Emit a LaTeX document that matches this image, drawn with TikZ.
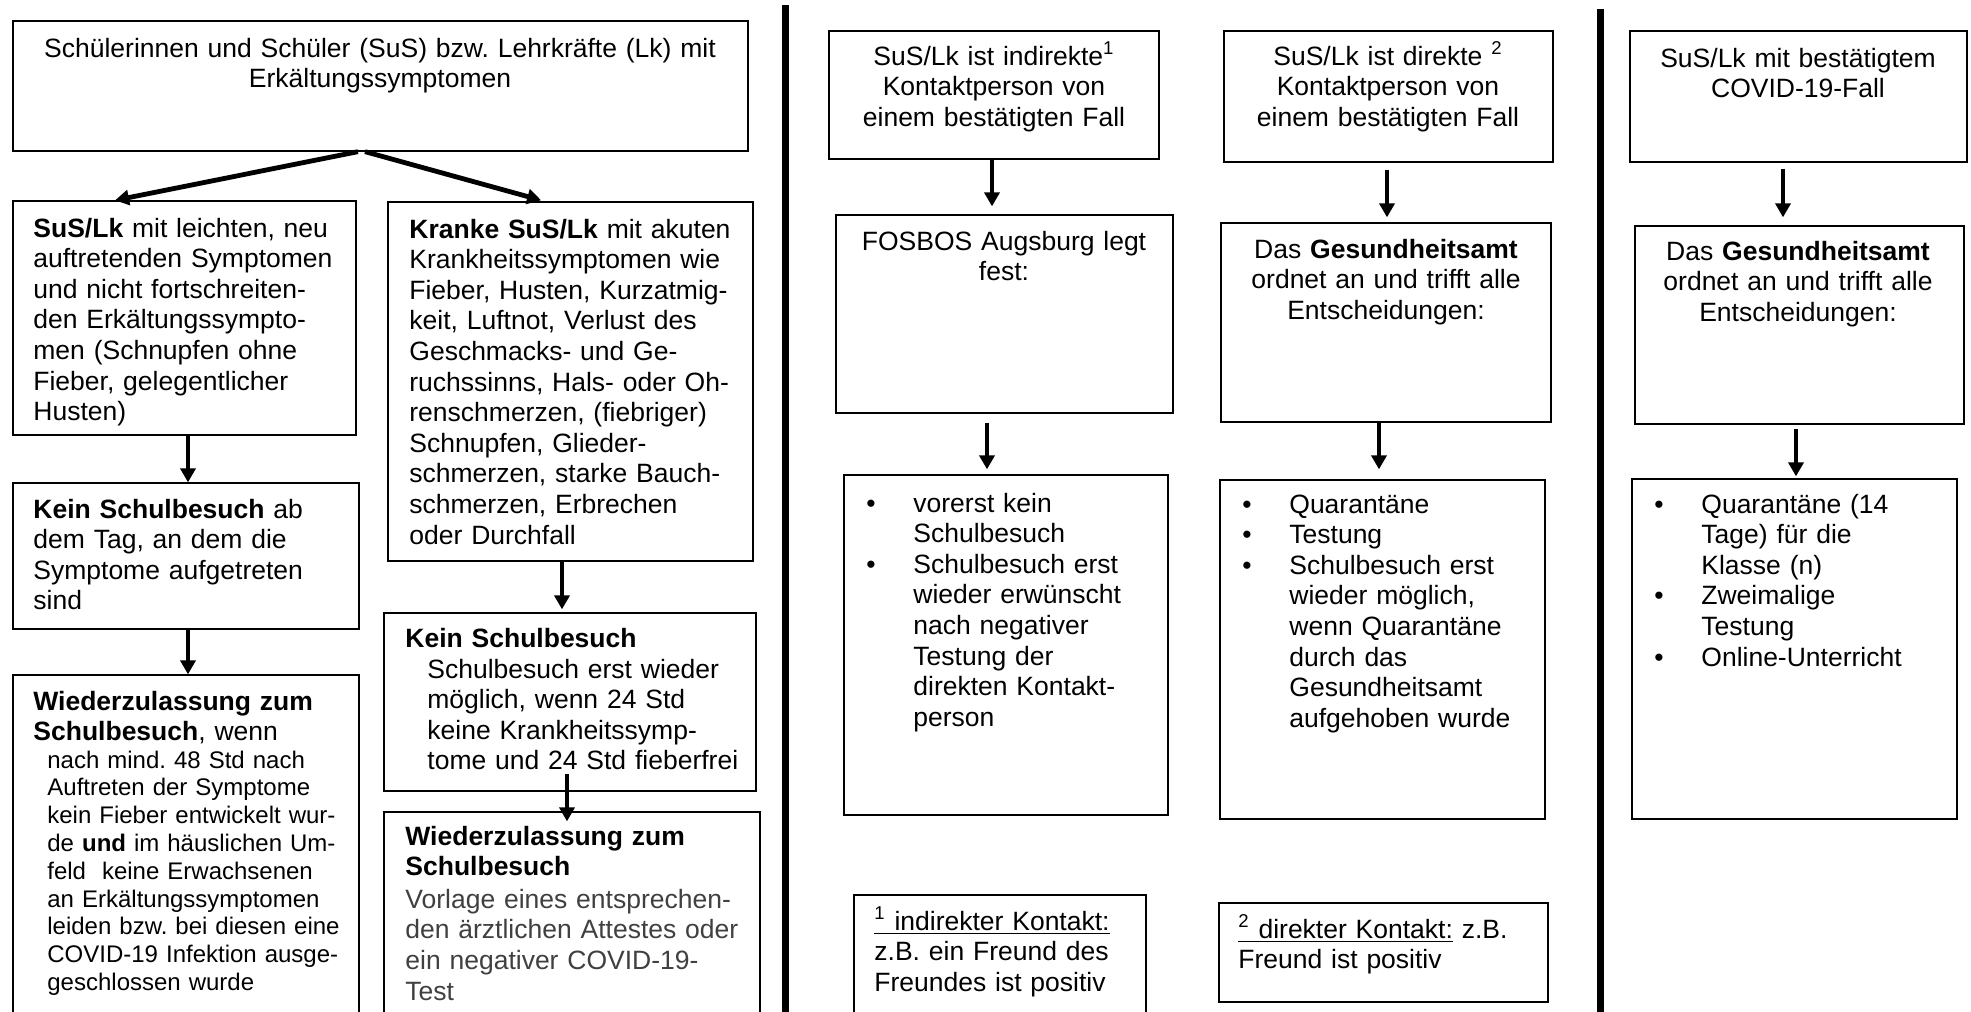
\documentclass[tikz,border=0pt]{standalone}
\usepackage{fontspec}
\setmainfont{Liberation Sans}
\usetikzlibrary{arrows.meta,fit}
\newcommand\mainsz{\fontsize{13.25}{15.3}\selectfont\frenchspacing}
\newcommand\smallsz{\fontsize{12}{13.9}\selectfont\frenchspacing}
\newcommand\bul{\makebox[23.5pt][l]{\textbullet}}
\newcommand\bulind{\hspace*{23.5pt}}
\tikzset{
  box/.style={draw=black, line width=0.65pt, inner sep=0pt, rectangle},
  txt/.style={inner sep=0pt, font=\mainsz, text width=300pt, align=left, anchor=base west},
  ctxt/.style={inner sep=0pt, font=\mainsz, text width=360pt, align=center, anchor=base},
  arr/.style={line width=2.4pt, -{Triangle[width=7.5pt,length=7pt]}},
  bar/.style={line width=3.5pt}
}
\begin{document}
\frenchspacing
\begin{tikzpicture}[x=0.5pt,y=-0.5pt]
\clip (0,0) rectangle (1971,1012);
\fill[white] (0,0) rectangle (1971,1012);
% separators
\draw[bar] (785,5) -- (785,1012);
\draw[bar] (1600,9) -- (1600,1012);
% boxes
\node[box, fit={(13,21) (748,151)}] (T) {};
\node[box, fit={(13,201) (356,435)}] (A) {};
\node[box, fit={(388,202) (753,561)}] (B) {};
\node[box, fit={(13,483) (359,629)}] (K1) {};
\node[box, fit={(13,675) (359,1030)}] (W1) {};
\node[box, fit={(384,613) (756,791)}] (K2) {};
\node[box, fit={(384,812) (760,1030)}] (W2) {};
\node[box, fit={(829,31) (1159,159)}] (M1) {};
\node[box, fit={(836,215) (1173,413)}] (M2) {};
\node[box, fit={(844,475) (1168,815)}] (M3) {};
\node[box, fit={(854,895) (1146,1030)}] (F1) {};
\node[box, fit={(1224,31) (1553,162)}] (D1) {};
\node[box, fit={(1221,223) (1551,422)}] (D2) {};
\node[box, fit={(1220,480) (1545,819)}] (D3) {};
\node[box, fit={(1219,903) (1548,1002)}] (F2) {};
\node[box, fit={(1630,31) (1967,162)}] (R1) {};
\node[box, fit={(1635,226) (1964,424)}] (R2) {};
\node[box, fit={(1632,479) (1957,819)}] (R3) {};
% texts left
\node[ctxt] (Tt) at (380,57) {Schülerinnen und Schüler (SuS) bzw. Lehrkräfte (Lk) mit\\Erkältungssymptomen};
\node[txt] (At) at (33,237) {\textbf{SuS/Lk} mit leichten, neu\\auftretenden Symptomen\\und nicht fortschreiten-\\den Erkältungssympto-\\men (Schnupfen ohne\\Fieber, gelegentlicher\\Husten)};
\node[txt] (Bt) at (409,238) {\makebox[161pt][s]{\textbf{Kranke SuS/Lk} mit akuten}\\
\makebox[161pt][s]{Krankheitssymptomen wie}\\
\makebox[161pt][s]{Fieber, Husten, Kurzatmig-}\\
\makebox[161pt][s]{keit, Luftnot, Verlust des}\\
\makebox[161pt][s]{Geschmacks- und Ge-}\\
\makebox[161pt][s]{ruchssinns, Hals- oder Oh-}\\
\makebox[161pt][s]{renschmerzen, (fiebriger)}\\
\makebox[161pt][s]{Schnupfen, Glieder-}\\
\makebox[161pt][s]{schmerzen, starke Bauch-}\\
\makebox[161pt][s]{schmerzen, Erbrechen}\\
oder Durchfall};
\node[txt] (K1t) at (33,518) {\textbf{Kein Schulbesuch} ab\\dem Tag, an dem die\\Symptome aufgetreten\\sind};
\node[txt] (W1h) at (33,710) {\textbf{Wiederzulassung zum}\\\textbf{Schulbesuch}, wenn};
\node[txt, font=\smallsz] (W1t) at (47,768) {nach mind. 48 Std nach\\Auftreten der Symptome\\kein Fieber entwickelt wur-\\de \textbf{und} im häuslichen Um-\\feld\ \ keine Erwachsenen\\an Erkältungssymptomen\\leiden bzw. bei diesen eine\\COVID-19 Infektion ausge-\\geschlossen wurde};
\node[txt] (K2h) at (405,647) {\textbf{Kein Schulbesuch}};
\node[txt] (K2t) at (427,678) {Schulbesuch erst wieder\\möglich, wenn 24 Std\\keine Krankheitssymp-\\tome und 24 Std fieberfrei};
\node[txt] (W2t) at (405,845) {\textbf{Wiederzulassung zum}\\\textbf{Schulbesuch}\\[1pt]\color{black!75}Vorlage eines entsprechen-\\den ärztlichen Attestes oder\\ein negativer COVID-19-\\Test};
% texts middle
\node[ctxt] (M1t) at (994,65) {SuS/Lk ist indirekte\textsuperscript{1}\\Kontaktperson von\\einem bestätigten Fall};
\node[ctxt] (M2t) at (1004,250) {FOSBOS Augsburg legt\\fest:};
\node[txt] (M3t) at (866,512) {\bul vorerst kein\\\bulind Schulbesuch\\\bul Schulbesuch erst\\\bulind wieder erwünscht\\\bulind nach negativer\\\bulind Testung der\\\bulind direkten Kontakt-\\\bulind person};
\node[txt] (F1t) at (874,930) {\underline{\textsuperscript{1} indirekter Kontakt:}\\z.B. ein Freund des\\Freundes ist positiv};
\node[ctxt] (D1t) at (1388,65) {SuS/Lk ist direkte \textsuperscript{2}\\Kontaktperson von\\einem bestätigten Fall};
\node[ctxt] (D2t) at (1386,258) {Das \textbf{Gesundheitsamt}\\ordnet an und trifft alle\\Entscheidungen:};
\node[txt] (D3t) at (1242,513) {\bul Quarantäne\\\bul Testung\\\bul Schulbesuch erst\\\bulind wieder möglich,\\\bulind wenn Quarantäne\\\bulind durch das\\\bulind Gesundheitsamt\\\bulind aufgehoben wurde};
\node[txt] (F2t) at (1238,938) {\underline{\textsuperscript{2} direkter Kontakt:} z.B.\\Freund ist positiv};
% texts right
\node[ctxt] (R1t) at (1798,67) {SuS/Lk mit bestätigtem\\COVID-19-Fall};
\node[ctxt] (R2t) at (1798,260) {Das \textbf{Gesundheitsamt}\\ordnet an und trifft alle\\Entscheidungen:};
\node[txt] (R3t) at (1654,513) {\bul Quarantäne (14\\\bulind Tage) für die\\\bulind Klasse (n)\\\bul Zweimalige\\\bulind Testung\\\bul Online-Unterricht};
% arrow x positions
\coordinate (xs1) at (358,0);
\coordinate (xe1) at (115,0);
\coordinate (xs2) at (365,0);
\coordinate (xe2) at (545,0);
\coordinate (xa) at (188,0);
\coordinate (xb) at (562,0);
\coordinate (xk) at (567,0);
\coordinate (xm1) at (992,0);
\coordinate (xm2) at (987,0);
\coordinate (xd1) at (1387,0);
\coordinate (xd2) at (1379,0);
\coordinate (xr1) at (1783,0);
\coordinate (xr2) at (1796,0);
% arrows
\draw[arr] (T.south -| xs1) -- (A.north -| xe1);
\draw[arr, shorten >=2pt] (T.south -| xs2) -- (B.north -| xe2);
\draw[arr] (A.south -| xa) -- (K1.north -| xa);
\draw[arr] (K1.south -| xa) -- (W1.north -| xa);
\draw[arr, shorten >=1.5pt] (B.south -| xb) -- (K2.north -| xb);
\draw[arr, shorten <=-9pt, shorten >=-5pt] (K2.south -| xk) -- (W2.north -| xk);
\draw[arr, shorten >=4pt] (M1.south -| xm1) -- (M2.north -| xm1);
\draw[arr, shorten <=4.5pt, shorten >=2.5pt] (M2.south -| xm2) -- (M3.north -| xm2);
\draw[arr, shorten <=3.5pt, shorten >=2.5pt] (D1.south -| xd1) -- (D2.north -| xd1);
\draw[arr, shorten >=5pt] (D2.south -| xd2) -- (D3.north -| xd2);
\draw[arr, shorten <=3pt, shorten >=4pt] (R1.south -| xr1) -- (R2.north -| xr1);
\draw[arr, shorten <=2pt, shorten >=1pt] (R2.south -| xr2) -- (R3.north -| xr2);
\end{tikzpicture}
\end{document}
